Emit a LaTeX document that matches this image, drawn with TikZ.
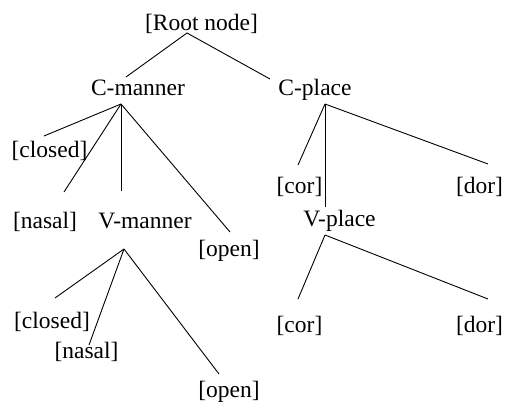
\documentclass[tikz,border=0pt]{standalone}
\usepackage{fontspec}
\setmainfont{Liberation Serif}
\begin{document}
\begin{tikzpicture}[x=1pt,y=-1pt,
  lbl/.style={font=\fontsize{23.5}{28}\selectfont, inner sep=0pt, anchor=base},
  edge/.style={line width=0.9pt}]
\useasboundingbox (0,0) rectangle (506,407);
% labels
\node[lbl] (root) at (201.5,30) {[Root node]};
\node[lbl] (cmanner) at (138,95) {C-manner};
\node[lbl] (cplace) at (315,95) {C-place};
\node[lbl] (closedA) at (49.5,157) {[closed]};
\node[lbl] (nasalA) at (45,228) {[nasal]};
\node[lbl] (vmanner) at (145,228) {V-manner};
\node[lbl] (openA) at (229,256) {[open]};
\node[lbl] (corA) at (299.5,193) {[cor]};
\node[lbl] (dorA) at (479.5,193) {[dor]};
\node[lbl] (vplace) at (339.5,226) {V-place};
\node[lbl] (corB) at (299.5,332) {[cor]};
\node[lbl] (dorB) at (479.5,332) {[dor]};
\node[lbl] (closedB) at (52,328) {[closed]};
\node[lbl] (nasalB) at (86.5,358) {[nasal]};
\node[lbl] (openB) at (229,397) {[open]};
% connector points
\coordinate (root-b) at (187,33);
\coordinate (cmanner-t) at (126,77);
\coordinate (cplace-t) at (270,79);
\coordinate (cmanner-b) at (121,104);
\coordinate (cplace-b) at (325,104);
\coordinate (vmanner-b) at (124,249);
\coordinate (vplace-b) at (325,235);
\coordinate (closedA-t) at (44,136);
\coordinate (nasalA-t) at (64,192);
\coordinate (vmanner-t) at (121,191);
\coordinate (openA-t) at (230,232);
\coordinate (corA-t) at (298,165);
\coordinate (vplace-t) at (325,207);
\coordinate (dorA-t) at (488,164);
\coordinate (corB-t) at (298,299);
\coordinate (dorB-t) at (488,299);
\coordinate (closedB-t) at (55,298);
\coordinate (nasalB-t) at (89,345);
\coordinate (openB-t) at (219,374);
% connectors
\draw[edge] (cmanner-t) -- (root-b) -- (cplace-t);
\draw[edge] (cmanner-b) -- (closedA-t);
\draw[edge] (cmanner-b) -- (nasalA-t);
\draw[edge] (cmanner-b) -- (vmanner-t);
\draw[edge] (cmanner-b) -- (openA-t);
\draw[edge] (cplace-b) -- (corA-t);
\draw[edge] (cplace-b) -- (vplace-t);
\draw[edge] (cplace-b) -- (dorA-t);
\draw[edge] (vplace-b) -- (corB-t);
\draw[edge] (vplace-b) -- (dorB-t);
\draw[edge] (vmanner-b) -- (closedB-t);
\draw[edge] (vmanner-b) -- (nasalB-t);
\draw[edge] (vmanner-b) -- (openB-t);
\end{tikzpicture}
\end{document}
